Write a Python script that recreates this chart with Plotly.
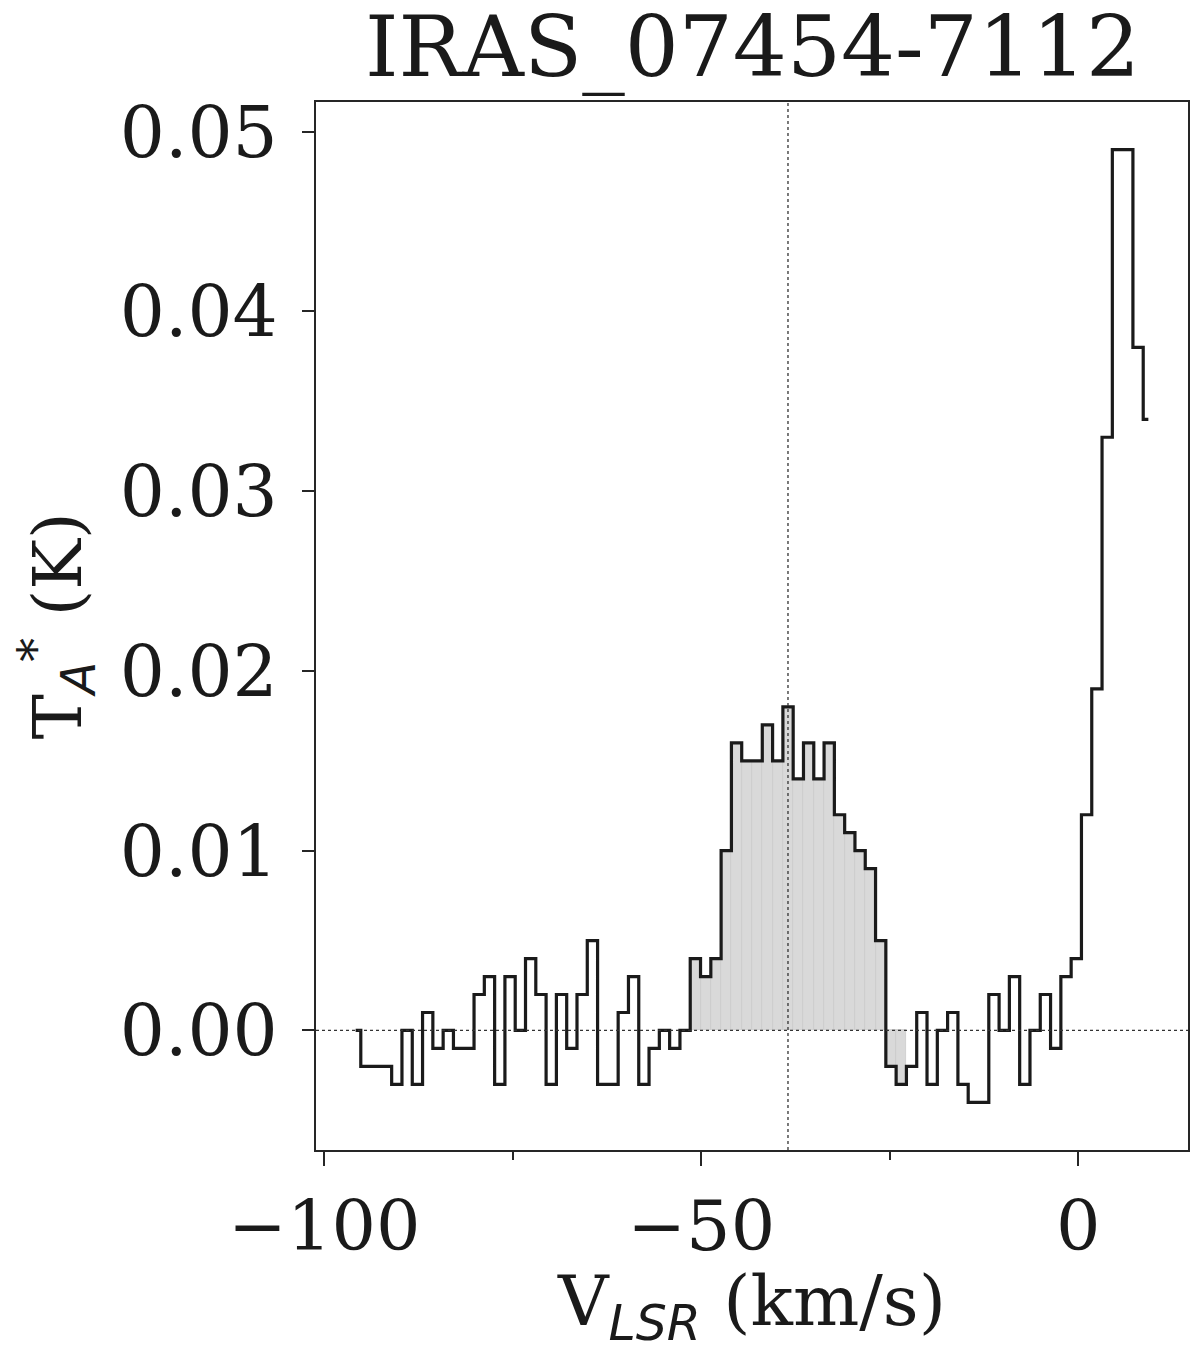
import numpy as np
import plotly.graph_objects as go

# spectral axis (channel grid)
v_start = -95.85
dv = 1.3656
n_chan = 78
velocity = np.round(v_start + dv * np.arange(n_chan), 3)

# antenna temperature per channel (K)
t_a = [
    0.000, -0.002, -0.002, -0.002, -0.003, 0.000, -0.003, 0.001, -0.001, 0.000,
    -0.001, -0.001, 0.002, 0.003, -0.003, 0.003, 0.000, 0.004, 0.002, -0.003,
    0.002, -0.001, 0.002, 0.005, -0.003, -0.003, 0.001, 0.003, -0.003, -0.001,
    0.000, -0.001, 0.000, 0.004, 0.003, 0.004, 0.010, 0.016, 0.015, 0.015,
    0.017, 0.015, 0.018, 0.014, 0.016, 0.014, 0.016, 0.012, 0.011, 0.010,
    0.009, 0.005, -0.002, -0.003, -0.002, 0.001, -0.003, 0.000, 0.001, -0.003,
    -0.004, -0.004, 0.002, 0.000, 0.003, -0.003, 0.000, 0.002, -0.001, 0.003,
    0.004, 0.012, 0.019, 0.033, 0.049, 0.049, 0.038, 0.034,
]

# integration window (channel indices, inclusive) and systemic velocity
win_lo, win_hi = 33, 53
v_sys = -38.5

title = "IRAS_07454-7112"
x_tickvals = [-100, -50, 0]
x_ticktext = ["\u2212100", "\u221250", "0"]
x_minor = [-75, -25]
y_tickvals = [0.00, 0.01, 0.02, 0.03, 0.04, 0.05]
y_ticktext = ["0.00", "0.01", "0.02", "0.03", "0.04", "0.05"]

FONT = "DejaVu Serif"
INK = "#1a1a1a"

v_arr = np.array(velocity)
t_arr = np.array(t_a)
xr = v_arr.max() - v_arr.min()
yr = t_arr.max() - t_arr.min()
x_range = [v_arr.min() - 0.05 * xr, v_arr.max() + 0.05 * xr]
y_range = [t_arr.min() - 0.05 * yr, t_arr.max() + 0.05 * yr]

fig = go.Figure()

fig.add_trace(go.Bar(
    x=v_arr[win_lo:win_hi + 1], y=t_arr[win_lo:win_hi + 1],
    width=dv, marker=dict(color="#d9d9d9", line=dict(color="#c9c9c9", width=0.8)),
    showlegend=False, hoverinfo="skip",
))

fig.add_trace(go.Scatter(
    x=v_arr, y=t_arr, mode="lines",
    line=dict(shape="hvh", color=INK, width=3.2),
    showlegend=False,
))

fig.add_shape(type="line", xref="paper", x0=0, x1=1, yref="y", y0=0, y1=0,
              line=dict(color="#333333", width=1.3, dash="dot"), layer="above")
fig.add_shape(type="line", xref="x", x0=v_sys, x1=v_sys, yref="paper", y0=0, y1=1,
              line=dict(color="#333333", width=1.3, dash="dot"), layer="above")

fig.add_annotation(
    text=title, xref="paper", yref="paper", x=0.5, y=1.0,
    xanchor="center", yanchor="bottom", yshift=4, showarrow=False,
    font=dict(family=FONT, size=85, color=INK),
)

# page body adds an 8 px offset, so the figure is 8 px smaller each way
fig.update_layout(
    width=1192, height=1344,
    margin=dict(l=308, r=12, t=94, b=202),
    paper_bgcolor="white", plot_bgcolor="white",
    bargap=0,
    font=dict(family=FONT, color=INK),
)

fig.update_xaxes(
    range=x_range, tickvals=x_tickvals, ticktext=x_ticktext, automargin=False,
    showgrid=False, zeroline=False,
    showline=True, mirror=True, linecolor="#262626", linewidth=2,
    ticks="outside", ticklen=14, tickwidth=2, tickcolor="#262626",
    minor=dict(ticks="outside", tickvals=x_minor, ticklen=8, tickwidth=1.5, tickcolor="#262626"),
    tickfont=dict(family=FONT, size=70, color=INK), ticklabelstandoff=0,
    title=dict(text="V<sub><span style=\"font-family:'DejaVu Sans'\"><i>LSR</i></span></sub> (km/s)",
               font=dict(family=FONT, size=70, color=INK), standoff=0),
)
fig.update_yaxes(
    range=y_range, tickvals=y_tickvals, ticktext=y_ticktext, automargin=False,
    showgrid=False, zeroline=False,
    showline=True, mirror=True, linecolor="#262626", linewidth=2,
    ticks="outside", ticklen=12, tickwidth=2, tickcolor="#262626",
    tickfont=dict(family=FONT, size=71, color=INK), ticklabelstandoff=10,
    title=dict(text="T<sub><span style=\"font-family:'DejaVu Sans'\"><i>A</i></span></sub><sup>*</sup> (K)",
               font=dict(family=FONT, size=68, color=INK), standoff=30),
)

fig.write_html("out.html")
